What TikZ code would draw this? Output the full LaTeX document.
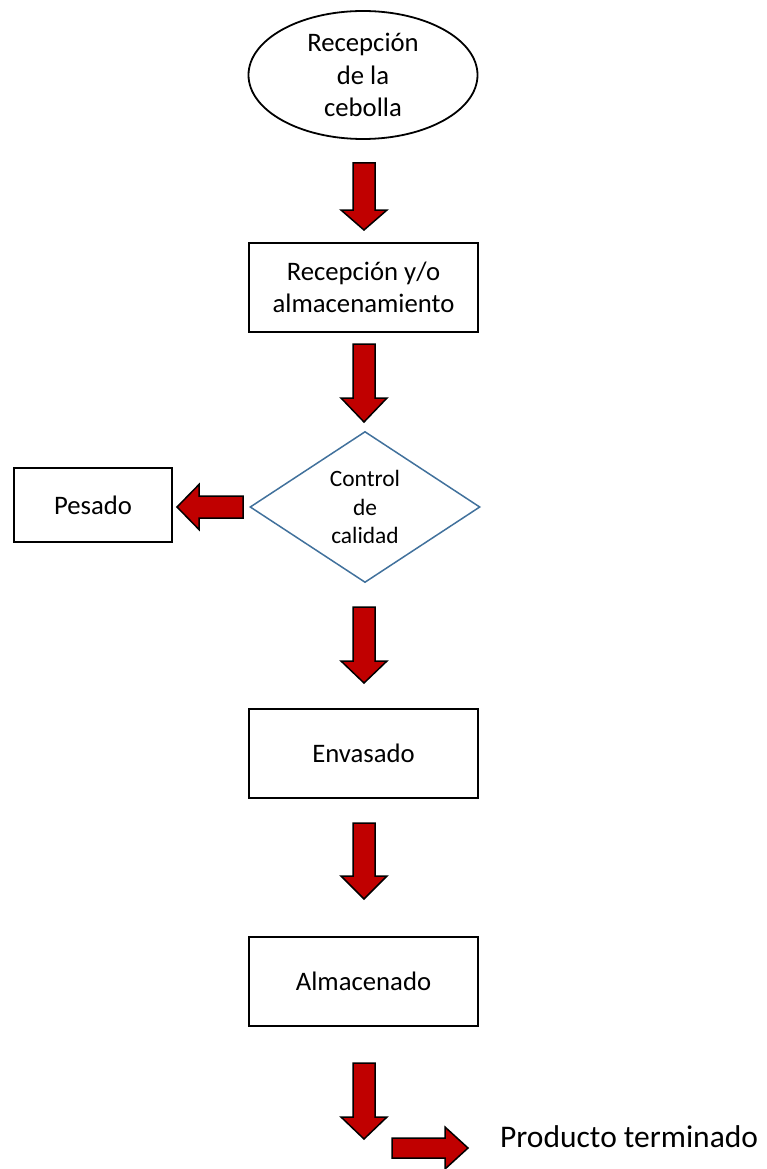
\documentclass[tikz,border=0pt]{standalone}
\usepackage{fontspec}
\setmainfont{Carlito}
\usetikzlibrary{shapes.geometric}
\definecolor{arrred}{HTML}{C00000}
\definecolor{diablue}{HTML}{41719C}
\begin{document}
\begin{tikzpicture}[x=1pt,y=-1pt,
  txt/.style={font=\fontsize{26.7}{32.5}\selectfont, align=center, inner sep=0pt},
  procbox/.style={txt, draw=black, line width=2pt, minimum width=229pt, minimum height=89pt},
  startell/.style={txt, ellipse, draw=black, line width=1.8pt, minimum width=229pt, minimum height=128pt},
  decision/.style={diamond, draw=diablue, line width=1.5pt, minimum width=230pt, minimum height=151pt, aspect=1.52, align=center, inner sep=0pt, font=\fontsize{23.4}{28.5}\selectfont},
  arrstyle/.style={draw=black, fill=arrred, line width=1.5pt, line join=miter},
  pics/blockarr/.style n args={4}{code={
    \draw[arrstyle] (0,-#3) -- ({#1-#2},-#3) -- ({#1-#2},-#4) -- (#1,0) -- ({#1-#2},#4) -- ({#1-#2},#3) -- (0,#3) -- cycle;
  }}
]
\useasboundingbox (0,0) rectangle (766,1169);

\node[startell] (start) at (363,75) {Recepción\\de la\\cebolla};
\node[procbox] (recep) at (363.5,287.5) {Recepción y/o\\almacenamiento};
\node[decision] (ctrl) at (365,507) {Control\\de\\calidad};
\node[procbox, minimum width=158pt, minimum height=74pt] (pesado) at (93,505) {Pesado};
\node[procbox] (envas) at (363.5,753.5) {Envasado};
\node[procbox] (almac) at (363.5,981.5) {Almacenado};
\node[anchor=base west, inner sep=0pt, font=\fontsize{31.5}{38}\selectfont] (prod) at (500,1147) {Producto terminado};

\coordinate (a1) at (364,163);
\coordinate (a2) at (364,344);
\coordinate (a3) at (364,607);
\coordinate (a4) at (364,823);
\coordinate (a5) at (364,1063);
\coordinate (al) at (243,507);
\coordinate (ar) at (392,1148);

\pic[rotate=-90] at (a1) {blockarr={67}{20}{11}{23}};
\pic[rotate=-90] at (a2) {blockarr={78}{24}{11}{23}};
\pic[rotate=-90] at (a3) {blockarr={76}{22}{11}{23}};
\pic[rotate=-90] at (a4) {blockarr={76}{23}{11}{23}};
\pic[rotate=-90] at (a5) {blockarr={76}{22}{11}{23}};
\pic[rotate=180] at (al) {blockarr={66}{22}{11}{22.5}};
\pic at (ar) {blockarr={76}{23}{10}{21}};
\end{tikzpicture}
\end{document}
